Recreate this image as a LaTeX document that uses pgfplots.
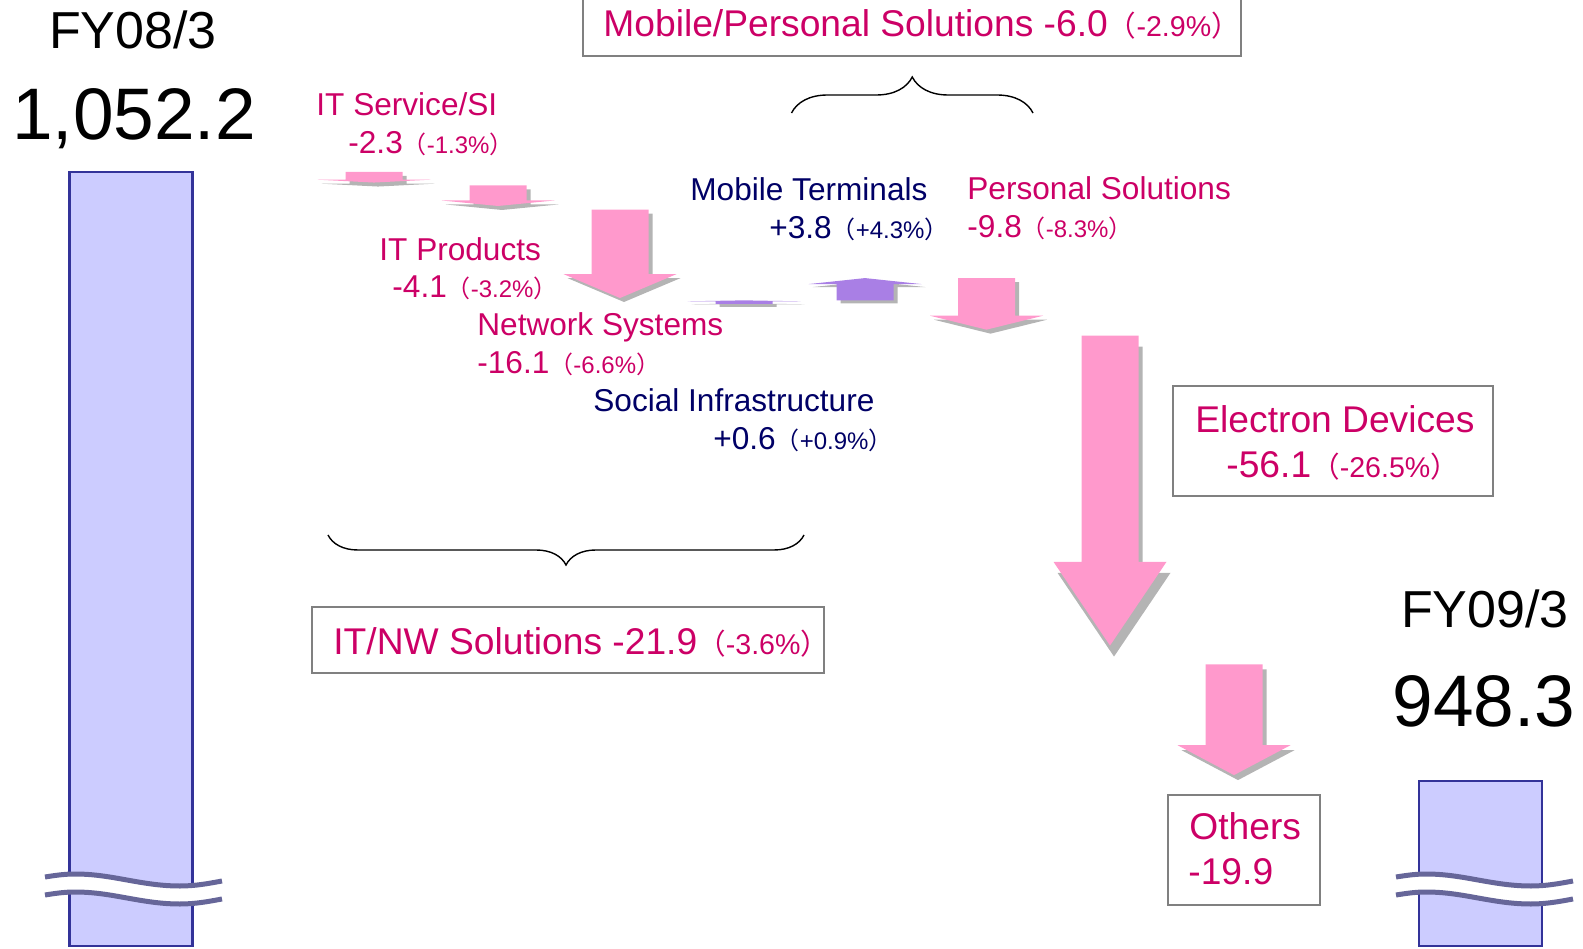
\documentclass[border=0pt]{standalone}
\usepackage{fontspec}
\setmainfont{Liberation Sans}
\newfontfamily\cjk{Noto Sans CJK JP}
\usepackage{pgfplots}
\pgfplotsset{compat=1.18}
\usetikzlibrary{decorations.pathreplacing}

\definecolor{mag}{HTML}{CC0066}
\definecolor{navy}{HTML}{000066}
\definecolor{pinkA}{HTML}{FF99CC}
\definecolor{purpA}{HTML}{A97FE5}
\definecolor{barfill}{HTML}{CCCCFF}
\definecolor{baredge}{HTML}{333399}
\definecolor{wave}{HTML}{666699}
\definecolor{shade}{HTML}{B4B4B4}
\definecolor{boxgray}{HTML}{808080}

% picture row (px from top) -> value on the y axis
\newcommand\py[1]{1081.547-(#1)/5.861}
% percentage in brackets, smaller
\newcommand\pc[2][12]{{\fontsize{#1}{#1}\selectfont{\cjk （}#2{\cjk ）}}}

% waterfall arrow: x centre, start level, change, shortening, colour, shadow drop (px)
\newcommand\wfarrow[6]{%
  \pgfmathsetmacro\wfys{#2}%
  \pgfmathsetmacro\wfye{#2+#3+ifthenelse(#3<0,#4,-#4)}%
  \pgfmathsetmacro\wfyh{\wfys+0.73*(\wfye-\wfys)}%
  \pgfmathsetmacro\wfxa{#1-28.5}\pgfmathsetmacro\wfxb{#1+28.5}%
  \pgfmathsetmacro\wfxc{#1-56.5}\pgfmathsetmacro\wfxd{#1+56.5}%
  \pgfmathsetmacro\wfdy{#6/5.861}%
  \pgfmathsetmacro\wfsys{\wfys-\wfdy}\pgfmathsetmacro\wfsye{\wfye-\wfdy}\pgfmathsetmacro\wfsyh{\wfyh-\wfdy}%
  \pgfmathsetmacro\wfsxa{\wfxa+4}\pgfmathsetmacro\wfsxb{\wfxb+4}%
  \pgfmathsetmacro\wfsxc{\wfxc+4}\pgfmathsetmacro\wfsxd{\wfxd+4}\pgfmathsetmacro\wfsx{#1+4}%
  \addplot[fill=shade, draw=none, forget plot] coordinates {(\wfsxa,\wfsys) (\wfsxb,\wfsys) (\wfsxb,\wfsyh) (\wfsxd,\wfsyh) (\wfsx,\wfsye) (\wfsxc,\wfsyh) (\wfsxa,\wfsyh)} -- cycle;
  \addplot[fill=#5, draw=none] coordinates {(\wfxa,\wfys) (\wfxb,\wfys) (\wfxb,\wfyh) (\wfxd,\wfyh) (#1,\wfye) (\wfxc,\wfyh) (\wfxa,\wfyh)} -- cycle;
}

\tikzset{
  lab/.style={anchor=base west, inner sep=0pt, font=\fontsize{15.8}{19}\selectfont},
  ttl/.style={anchor=base west, inner sep=0pt, font=\fontsize{18.6}{22}\selectfont},
}

\begin{document}
\begin{tikzpicture}
\begin{axis}[
    width=791.5pt, height=474pt, scale only axis,
    xmin=0, xmax=1583,
    ymin=919.799, ymax=1081.547,
    hide axis, clip=false,
]
\coordinate (BL) at (rel axis cs:0,0);
\coordinate (TR) at (rel axis cs:1,1);

% totals
\addplot[fill=barfill, draw=baredge, line width=1.4pt] coordinates {(69.5,920.14) (69.5,1052.2) (192.5,1052.2) (192.5,920.14)} -- cycle;
\addplot[fill=barfill, draw=baredge, line width=1.4pt] coordinates {(1419,920.14) (1419,948.3) (1542,948.3) (1542,920.14)} -- cycle;

% changes
\wfarrow{374}{1052.2}{-2.3}{0.5}{pinkA}{4}
\wfarrow{498}{1049.9}{-4.1}{0.6}{pinkA}{4}
\wfarrow{620}{1045.8}{-16.1}{1.0}{pinkA}{4}
\wfarrow{744}{1029.7}{0.6}{0}{purpA}{3}
\wfarrow{865}{1030.3}{3.8}{0}{purpA}{3}
\wfarrow{986.5}{1034.1}{-9.8}{1.0}{pinkA}{4}
\wfarrow{1110}{1024.3}{-56.1}{3.2}{pinkA}{11}
\wfarrow{1234}{968.2}{-19.9}{1.0}{pinkA}{5}

% totals text
\node[anchor=base, inner sep=0pt, font=\fontsize{26}{30}\selectfont] at (axis cs:133,{\py{49}}) {FY08/3};
\node[anchor=base, inner sep=0pt, font=\fontsize{36.5}{40}\selectfont] at (axis cs:134,{\py{140}}) {1,052.2};
\node[anchor=base, inner sep=0pt, font=\fontsize{26}{30}\selectfont] at (axis cs:1485,{\py{628}}) {FY09/3};
\node[anchor=base, inner sep=0pt, font=\fontsize{36.5}{40}\selectfont] at (axis cs:1484,{\py{727}}) {948.3};

% segment labels
\node[lab, mag] at (axis cs:316,{\py{116}}) {IT Service/SI};
\node[lab, mag] at (axis cs:348,{\py{154}}) {-2.3\pc{-1.3\%}};
\node[lab, mag] at (axis cs:379,{\py{261}}) {IT Products};
\node[lab, mag] at (axis cs:392,{\py{298}}) {-4.1\pc{-3.2\%}};
\node[lab, mag] at (axis cs:477,{\py{336}}) {Network Systems};
\node[lab, mag] at (axis cs:477,{\py{374}}) {-16.1\pc{-6.6\%}};
\node[lab, navy] at (axis cs:593,{\py{412}}) {Social Infrastructure};
\node[lab, navy] at (axis cs:713,{\py{450}}) {+0.6\pc{+0.9\%}};
\node[lab, navy] at (axis cs:690,{\py{201}}) {Mobile Terminals};
\node[lab, navy] at (axis cs:769,{\py{239}}) {+3.8\pc{+4.3\%}};
\node[lab, mag] at (axis cs:967,{\py{200}}) {Personal Solutions};
\node[lab, mag] at (axis cs:967,{\py{238}}) {-9.8\pc{-8.3\%}};

% boxed group labels
\draw[boxgray, line width=1pt] (axis cs:582.5,{\py{56.5}}) rectangle (axis cs:1241,{\py{-5}});
\node[ttl, mag] at (axis cs:603,{\py{37}}) {Mobile/Personal Solutions -6.0\pc[14.3]{-2.9\%}};
\draw[boxgray, line width=1pt] (axis cs:1173,{\py{386.5}}) rectangle (axis cs:1493,{\py{496.5}});
\node[ttl, mag] at (axis cs:1195,{\py{433}}) {Electron Devices};
\node[ttl, mag] at (axis cs:1226,{\py{478}}) {-56.1\pc[14.3]{-26.5\%}};
\draw[boxgray, line width=1pt] (axis cs:312,{\py{607.5}}) rectangle (axis cs:824,{\py{673}});
\node[ttl, mag] at (axis cs:333,{\py{655}}) {IT/NW Solutions -21.9\pc[14.3]{-3.6\%}};
\draw[boxgray, line width=1pt] (axis cs:1168,{\py{794.5}}) rectangle (axis cs:1320,{\py{905.5}});
\node[ttl, mag] at (axis cs:1189,{\py{840}}) {Others};
\node[ttl, mag] at (axis cs:1188,{\py{885}}) {-19.9};

% braces
\draw[decorate, decoration={brace, amplitude=18pt}, line width=0.7pt] (axis cs:791.5,{\py{113}}) -- (axis cs:1033,{\py{113}});
\draw[decorate, decoration={brace, mirror, amplitude=15pt}, line width=0.7pt] (axis cs:328,{\py{535}}) -- (axis cs:804,{\py{535}});

\coordinate (brkL) at (axis cs:45,{\py{877}});
\coordinate (brkR) at (axis cs:1396,{\py{877}});
\end{axis}

% axis breaks
\foreach \b in {brkL,brkR}{
\begin{scope}[shift={(\b)}, x=0.5pt, y=0.5pt]
  \fill[white] (0,0) sin (30,3) cos (82,-3) sin (135,-9) cos (177,-4) -- (177,-22) sin (135,-27) cos (82,-21) sin (30,-15) cos (0,-18) -- cycle;
  \draw[wave, line width=2.5pt] (0,0) sin (30,3) cos (82,-3) sin (135,-9) cos (177,-4);
  \draw[wave, line width=2.5pt] (0,-18) sin (30,-15) cos (82,-21) sin (135,-27) cos (177,-22);
\end{scope}
}

\pgfresetboundingbox
\path (BL) rectangle (TR);
\end{tikzpicture}
\end{document}
